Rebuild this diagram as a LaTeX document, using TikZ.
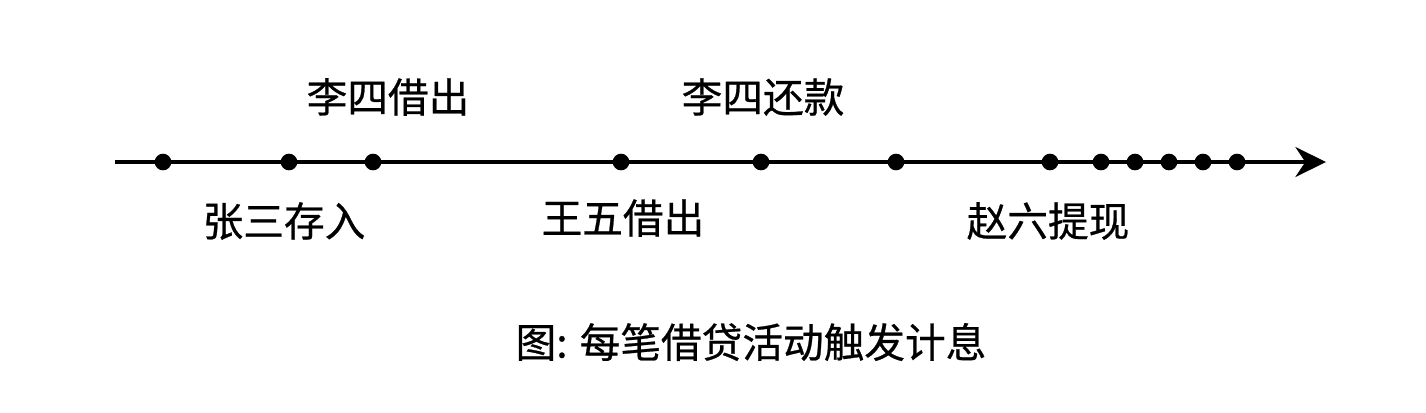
\documentclass[tikz,border=0pt]{standalone}
\usepackage{fontspec}
\setmainfont{Noto Sans CJK SC}[FakeBold=0.6]
\usetikzlibrary{arrows.meta}
\tikzset{
  dot/.style={circle,fill=black,inner sep=0pt,minimum size=12.5pt},
  lab/.style={font=\fontsize{30.5pt}{34pt}\selectfont,inner sep=0pt},
  axis/.style={line width=2.3pt,-{Stealth[length=23pt,width=22.5pt,inset=7.5pt]}}
}
\begin{document}
\begin{tikzpicture}[x=0.75pt,y=-0.75pt]
\useasboundingbox[fill=white] (0,0) rectangle (1426,412);
\coordinate (s) at (115,162);
\coordinate (e) at (1326,162);
\draw[axis] (s) -- (e);
\foreach \n/\x in {d1/163,d2/289,d3/373,d4/621,d5/761,d6/896,d7/1050,d8/1101,d9/1135,d10/1169,d11/1203,d12/1237}
  \node[dot] (\n) at (\x,162) {};
\node[lab] (l1) at (388,97) {李四借出};
\node[lab] (l2) at (763,97) {李四还款};
\node[lab] (l3) at (284,221) {张三存入};
\node[lab] (l4) at (623,218) {王五借出};
\node[lab] (l5) at (1048,221) {赵六提现};
\node[lab] (cap) at (751,342) {图: 每笔借贷活动触发计息};
\end{tikzpicture}
\end{document}
